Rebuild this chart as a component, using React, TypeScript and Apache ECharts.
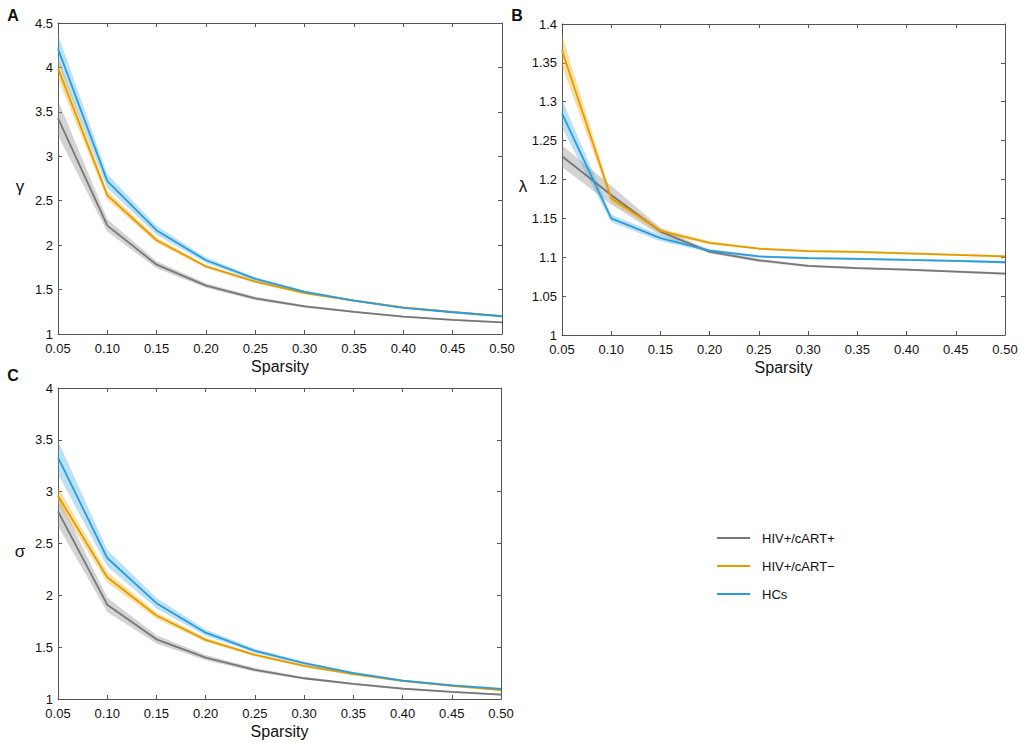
import React, { useEffect, useRef } from "react";
import * as echarts from "echarts";

const sparsity = ["0.05", "0.10", "0.15", "0.20", "0.25", "0.30", "0.35", "0.40", "0.45", "0.50"];
const groupNames = ["HIV+/cART+", "HIV+/cART\u2212", "HCs"];

// Panel A: gamma
const gammaCartPos = [3.43, 2.22, 1.78, 1.545, 1.4, 1.31, 1.25, 1.195, 1.16, 1.13];
const gammaCartPosErr = [0.2, 0.07, 0.04, 0.025, 0.02, 0.015, 0.012, 0.01, 0.01, 0.01];
const gammaCartNeg = [3.99, 2.56, 2.055, 1.76, 1.59, 1.46, 1.375, 1.3, 1.25, 1.2];
const gammaCartNegErr = [0.12, 0.05, 0.03, 0.02, 0.015, 0.012, 0.01, 0.01, 0.008, 0.008];
const gammaHC = [4.21, 2.72, 2.165, 1.83, 1.62, 1.475, 1.375, 1.295, 1.245, 1.2];
const gammaHCErr = [0.16, 0.08, 0.05, 0.03, 0.02, 0.015, 0.012, 0.01, 0.01, 0.01];

// Panel B: lambda
const lambdaCartPos = [1.23, 1.18, 1.133, 1.107, 1.096, 1.089, 1.086, 1.084, 1.0815, 1.079];
const lambdaCartPosErr = [0.014, 0.012, 0.005, 0.002, 0.002, 0.0015, 0.0015, 0.0015, 0.0015, 0.0015];
const lambdaCartNeg = [1.366, 1.176, 1.134, 1.1185, 1.111, 1.108, 1.107, 1.105, 1.103, 1.101];
const lambdaCartNegErr = [0.02, 0.005, 0.003, 0.002, 0.0015, 0.0015, 0.0015, 0.0015, 0.0015, 0.0015];
const lambdaHC = [1.285, 1.15, 1.1245, 1.1086, 1.101, 1.099, 1.098, 1.0966, 1.0953, 1.0936];
const lambdaHCErr = [0.018, 0.005, 0.004, 0.002, 0.0015, 0.0015, 0.0015, 0.0015, 0.0015, 0.0015];

// Panel C: sigma
const sigmaCartPos = [2.81, 1.91, 1.576, 1.4, 1.28, 1.2, 1.145, 1.1, 1.068, 1.042];
const sigmaCartPosErr = [0.14, 0.07, 0.04, 0.025, 0.018, 0.012, 0.01, 0.01, 0.008, 0.008];
const sigmaCartNeg = [2.96, 2.175, 1.805, 1.57, 1.425, 1.319, 1.24, 1.174, 1.126, 1.087];
const sigmaCartNegErr = [0.08, 0.05, 0.03, 0.02, 0.015, 0.012, 0.01, 0.01, 0.008, 0.008];
const sigmaHC = [3.33, 2.36, 1.924, 1.64, 1.464, 1.345, 1.25, 1.177, 1.132, 1.097];
const sigmaHCErr = [0.16, 0.08, 0.05, 0.03, 0.02, 0.015, 0.012, 0.01, 0.01, 0.01];

const lineColors = ["#777777", "#e39c00", "#2b9bdb"];
const bandColors = ["rgba(140,140,140,0.38)", "rgba(240,170,20,0.38)", "rgba(80,175,230,0.38)"];

const FONT = "'Liberation Sans', Arial, Helvetica, sans-serif";
const AXIS_COLOR = "#555";

function fmt(v: number) {
  return String(Number(v.toFixed(2)));
}

export default function App() {
  const ref = useRef<HTMLDivElement>(null);

  useEffect(() => {
    document.body.style.margin = "0";
    if (!ref.current) return;
    const chart = echarts.init(ref.current, undefined, { renderer: "svg" });

    const grids = [
      { left: 58, top: 23, width: 444, height: 311 },
      { left: 562, top: 24, width: 443, height: 311 },
      { left: 58, top: 388, width: 443, height: 311 },
    ];
    const yRanges = [
      { min: 1, max: 4.5, interval: 0.5 },
      { min: 1, max: 1.4, interval: 0.05 },
      { min: 1, max: 4, interval: 0.5 },
    ];
    const panels = [
      { vals: [gammaCartPos, gammaCartNeg, gammaHC], errs: [gammaCartPosErr, gammaCartNegErr, gammaHCErr] },
      { vals: [lambdaCartPos, lambdaCartNeg, lambdaHC], errs: [lambdaCartPosErr, lambdaCartNegErr, lambdaHCErr] },
      { vals: [sigmaCartPos, sigmaCartNeg, sigmaHC], errs: [sigmaCartPosErr, sigmaCartNegErr, sigmaHCErr] },
    ];

    const xAxis: any[] = [];
    const yAxis: any[] = [];
    grids.forEach((_, gi) => {
      const axisLine = { show: true, lineStyle: { color: AXIS_COLOR, width: 1 } };
      const tick = { show: true, inside: true, length: 4, lineStyle: { color: AXIS_COLOR } };
      xAxis.push({
        type: "category",
        gridIndex: gi,
        data: sparsity,
        boundaryGap: false,
        position: "bottom",
        axisLine,
        axisTick: tick,
        axisLabel: { color: "#111", fontSize: 13, fontFamily: FONT, margin: 8, lineHeight: 12 },
        splitLine: { show: false },
        name: "Sparsity",
        nameLocation: "middle",
        nameGap: 24,
        nameTextStyle: { color: "#111", fontSize: 16, fontFamily: FONT, verticalAlign: "top" },
      });
      xAxis.push({
        type: "category",
        gridIndex: gi,
        data: sparsity,
        boundaryGap: false,
        position: "top",
        axisLine,
        axisTick: tick,
        axisLabel: { show: false },
        splitLine: { show: false },
      });
      yAxis.push({
        type: "value",
        gridIndex: gi,
        position: "left",
        ...yRanges[gi],
        axisLine,
        axisTick: tick,
        axisLabel: { color: "#111", fontSize: 13, fontFamily: FONT, margin: 5, lineHeight: 11, formatter: fmt },
        splitLine: { show: false },
      });
      yAxis.push({
        type: "value",
        gridIndex: gi,
        position: "right",
        ...yRanges[gi],
        axisLine,
        axisTick: tick,
        axisLabel: { show: false },
        splitLine: { show: false },
      });
    });

    const series: any[] = [];
    panels.forEach((p, pi) => {
      // bands first
      p.vals.forEach((vals, gi) => {
        const err = p.errs[gi];
        const stack = `band-${pi}-${gi}`;
        series.push({
          type: "line",
          name: `lo-${pi}-${gi}`,
          xAxisIndex: pi * 2,
          yAxisIndex: pi * 2,
          stack,
          data: vals.map((v, i) => v - err[i]),
          symbol: "none",
          lineStyle: { opacity: 0 },
          silent: true,
        });
        series.push({
          type: "line",
          name: `band-${pi}-${gi}`,
          xAxisIndex: pi * 2,
          yAxisIndex: pi * 2,
          stack,
          data: err.map((e) => 2 * e),
          symbol: "none",
          lineStyle: { opacity: 0 },
          areaStyle: { color: bandColors[gi], opacity: 1 },
          silent: true,
        });
      });
      p.vals.forEach((vals, gi) => {
        series.push({
          type: "line",
          name: groupNames[gi],
          xAxisIndex: pi * 2,
          yAxisIndex: pi * 2,
          data: vals,
          symbol: "none",
          lineStyle: { color: lineColors[gi], width: 1.8 },
          itemStyle: { color: lineColors[gi] },
        });
      });
    });

    const txt = (text: string, x: number, y: number, size: number, bold = false) => ({
      type: "text",
      x,
      y,
      style: {
        text,
        fill: "#111",
        font: `${bold ? "bold " : ""}${size}px ${FONT}`,
        align: "center",
        verticalAlign: "middle",
      },
    });

    chart.setOption({
      animation: false,
      backgroundColor: "#fff",
      grid: grids,
      xAxis,
      yAxis,
      series,
      legend: {
        data: groupNames.map((n, i) => ({ name: n, itemStyle: { color: lineColors[i] } })),
        orient: "vertical",
        left: 712,
        top: 526,
        icon: "rect",
        itemWidth: 33,
        itemHeight: 2,
        itemGap: 14,
        selectedMode: false,
        textStyle: { fontSize: 13, fontFamily: FONT, color: "#111", lineHeight: 14, padding: [0, 0, 0, 7] },
      },
      graphic: [
        txt("A", 13, 15, 16, true),
        txt("B", 517, 15, 16, true),
        txt("C", 13, 375, 16, true),
        txt("\u03b3", 20, 186, 17),
        txt("\u03bb", 523, 186, 17),
        txt("\u03c3", 20, 551, 17),
      ],
    });

    return () => chart.dispose();
  }, []);

  return <div ref={ref} style={{ width: 1021, height: 743 }} />;
}
